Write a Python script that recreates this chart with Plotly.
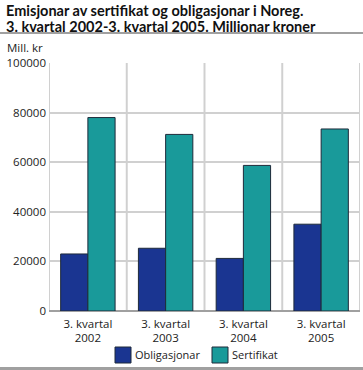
import plotly.graph_objects as go

categories = ["3. kvartal<br>2002", "3. kvartal<br>2003", "3. kvartal<br>2004", "3. kvartal<br>2005"]
obligasjonar = [23000, 25300, 21200, 35000]
sertifikat = [78000, 71200, 58700, 73400]
y_ticks = [0, 20000, 40000, 60000, 80000, 100000]
series_names = ["Obligasjonar", "Sertifikat"]
series_colors = ["#1a3591", "#199a9a"]
title_lines = ["Emisjonar av sertifikat og obligasjonar i Noreg.",
               "3. kvartal 2002-3. kvartal 2005. Millionar kroner"]

FONT = "Open Sans"
TITLE_FONT = "Lato"
GRID = "#d0d0d0"
EDGE = "#1e2a3a"
W, H = 363, 370
L, R, T, B = 49, 3, 63, 59
PW, PH = W - L - R, H - T - B


def px_x(x):
    return (x - L) / PW


def px_y(y):
    return (H - B - y) / PH


fig = go.Figure()
for name, vals, col in zip(series_names, [obligasjonar, sertifikat], series_colors):
    fig.add_trace(go.Bar(name=name, x=categories, y=vals, showlegend=False,
                         marker=dict(color=col, line=dict(color=EDGE, width=1))))

shapes = []
for i in range(len(categories) + 1):
    shapes.append(dict(type="line", xref="x", yref="y", x0=i - 0.5, x1=i - 0.5,
                       y0=0, y1=100000, line=dict(color=GRID, width=2), layer="below"))
# separator bars (title / bottom)
shapes.append(dict(type="rect", xref="paper", yref="paper", x0=px_x(0), x1=px_x(W),
                   y0=px_y(34), y1=px_y(32), fillcolor="#a0a0a0", line=dict(width=0)))
shapes.append(dict(type="rect", xref="paper", yref="paper", x0=px_x(0), x1=px_x(W),
                   y0=px_y(370), y1=px_y(367), fillcolor="#a0a0a0", line=dict(width=0)))

annotations = [dict(text="<b>" + t + "</b>", xref="paper", yref="paper", x=px_x(4), y=px_y(10 + 16 * i),
                    xanchor="left", yanchor="middle", showarrow=False,
                    font=dict(family=TITLE_FONT, size=14.5, color="#111"))
               for i, t in enumerate(title_lines)]
annotations.append(dict(text="Mill. kr", xref="paper", yref="paper", x=px_x(5), y=px_y(47),
                        xanchor="left", yanchor="middle", showarrow=False,
                        font=dict(size=11.5, color="#222")))

# manual legend
legend_x = [115, 212]
for name, col, lx in zip(series_names, series_colors, legend_x):
    shapes.append(dict(type="rect", xref="paper", yref="paper", x0=px_x(lx), x1=px_x(lx + 16),
                       y0=px_y(363), y1=px_y(347), fillcolor=col, line=dict(color=EDGE, width=1)))
    annotations.append(dict(text=name, xref="paper", yref="paper", x=px_x(lx + 18), y=px_y(354),
                            xanchor="left", yanchor="middle", showarrow=False,
                            font=dict(size=11, color="#222")))

fig.update_layout(
    width=W, height=H,
    margin=dict(l=L, r=R, t=T, b=B, autoexpand=False),
    paper_bgcolor="white", plot_bgcolor="white",
    barmode="group", bargap=0.3, bargroupgap=0,
    font=dict(family=FONT, size=11.5, color="#222"),
    showlegend=False,
    xaxis=dict(showgrid=False, showline=False, ticks="", tickfont=dict(size=11.5, color="#222"),
               range=[-0.5, len(categories) - 0.5], ticklabelstandoff=4),
    yaxis=dict(range=[0, 100000], tickvals=y_ticks, ticktext=[str(v) for v in y_ticks],
               showgrid=True, gridcolor=GRID, gridwidth=2, zeroline=True, zerolinecolor="#a0a0a0",
               zerolinewidth=2, ticks="", tickfont=dict(size=11.5, color="#222"), ticklabelstandoff=2),
    shapes=shapes,
    annotations=annotations,
)

fig.write_html("out.html", config={"displayModeBar": False},
               post_script="document.body.style.margin='0';document.body.style.overflow='hidden';window.scrollTo(0,0);")
